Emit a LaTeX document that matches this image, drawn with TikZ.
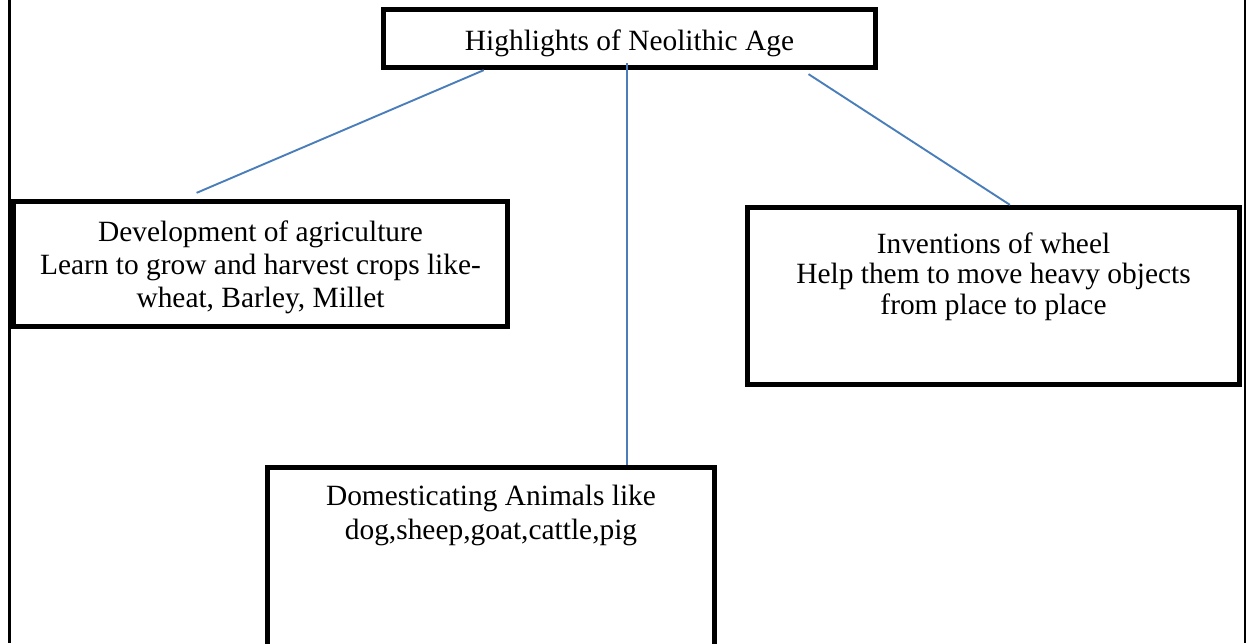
\documentclass[tikz,border=0pt]{standalone}
\usepackage{fontspec}
\setmainfont{Liberation Serif}
\usetikzlibrary{positioning,calc}

\definecolor{linkblue}{RGB}{74,126,187}

\tikzset{
    box/.style={draw, line width=4.8pt, rectangle, inner sep=0pt},
    txt/.style={inner sep=0pt, align=center, font=\fontsize{29.4}{33.3}\selectfont},
    link/.style={draw=linkblue, line width=1.9pt},
    frame/.style={draw, line width=2.7pt}
}

\begin{document}
\begin{tikzpicture}[x=1pt, y=-1pt]
        \clip (0,0) rectangle (1246,643);

        % page frame
        \draw[frame] (9.7,0) -- (9.7,643);
        \draw[frame] (1245,0) -- (1245,643);

        % boxes
        \node[box, minimum width=492.5pt, minimum height=58.5pt] (top) at (629.5,38.5) {};
        \node[box, minimum width=494.5pt, minimum height=125.5pt] (dev) at (260.5,264) {};
        \node[box, minimum width=492.5pt, minimum height=177.5pt] (wheel) at (993.5,296) {};
        \node[box, minimum width=447.5pt, minimum height=260pt] (anim) at (491,597.25) {};

        % texts
        \node[txt, below=23pt of top.north] (toptxt) {Highlights of Neolithic Age};
        \node[txt, below=21.5pt of dev.north] (devtxt) {Development of agriculture\\Learn to grow and harvest crops like-\\wheat, Barley, Millet};
        \node[txt, font=\fontsize{29.4}{30.5}\selectfont, below=27.5pt of wheel.north] (wheeltxt) {Inventions of wheel\\Help them to move heavy objects\\from place to place};
        \node[txt, below=20.5pt of anim.north] (animtxt) {Domesticating Animals like\\dog,sheep,goat,cattle,pig};

        % connectors
        \coordinate (m) at ($(anim.north west)!.8!(anim.north east)$);
        \draw[link] ($(top.south west)!.207!(top.south east)$) -- ($(dev.north west)!.372!(dev.north east)+(0,-6)$);
        \draw[link] (m) -- ($(m |- top.south)+(0,-7)$);
        \draw[link] ($(top.south west)!.86!(top.south east)+(0,4)$) -- ($(wheel.north west)!.533!(wheel.north east)$);
\end{tikzpicture}
\end{document}
